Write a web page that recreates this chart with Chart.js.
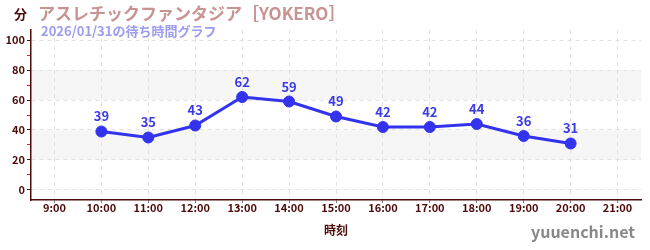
<!DOCTYPE html>
<html><head><meta charset="utf-8">
<script src="https://cdn.jsdelivr.net/npm/chart.js@4/dist/chart.umd.min.js"></script>
<style>html,body{margin:0;padding:0;background:#fff}#wrap{width:650px;height:250px}</style>
</head><body><div id="wrap"><canvas id="c" width="650" height="250"></canvas></div>
<script>
const categories = ["9:00","10:00","11:00","12:00","13:00","14:00","15:00","16:00","17:00","18:00","19:00","20:00","21:00"];
const waitTimes = [null,39,35,43,62,59,49,42,42,44,36,31,null];
const yTicks = [0,10,20,30,40,50,60,70,80,90,100];
const titleText = "アスレチックファンタジア［YOKERO］";
const subtitleText = "2026/01/31の待ち時間グラフ";
const unitText = "分";
const xTitle = "時刻";
const watermark = "yuuenchi.net";

const FONT = "'Noto Sans CJK JP','Noto Sans',sans-serif";
const MAROON = "#4d0a0a";

const decor = {
  id: "decor",
  beforeDraw(chart) {
    const {ctx, chartArea, scales:{y}} = chart;
    ctx.save();
    ctx.fillStyle = "#f6f6f6";
    [[20,40],[60,80]].forEach(([a,b]) => {
      const t = y.getPixelForValue(b), bt = y.getPixelForValue(a);
      ctx.fillRect(chartArea.left, t, chartArea.right - chartArea.left, bt - t);
    });
    ctx.restore();
  },
  afterDraw(chart) {
    const {ctx} = chart;
    ctx.save();
    ctx.textBaseline = "alphabetic";
    ctx.textAlign = "left";
    ctx.fillStyle = MAROON;
    ctx.font = "bold 13px " + FONT;
    ctx.fillText(unitText, 14, 19);
    ctx.fillStyle = "#c89393";
    ctx.font = "bold 17px " + FONT;
    ctx.fillText(titleText, 38, 20);
    ctx.fillStyle = "#9c9cf0";
    ctx.font = "bold 13px " + FONT;
    ctx.fillText(subtitleText, 41, 36);
    ctx.fillStyle = "#888888";
    ctx.font = "bold 16px " + FONT;
    ctx.textAlign = "right";
    ctx.fillText(watermark, 635, 238);
    // data labels
    const meta = chart.getDatasetMeta(0);
    ctx.fillStyle = "#3b3be6";
    ctx.font = "bold 13px " + FONT;
    ctx.textAlign = "center";
    meta.data.forEach((pt, i) => {
      const v = waitTimes[i];
      if (v === null || v === undefined) return;
      ctx.fillText(String(v), pt.x, pt.y - 10);
    });
    ctx.restore();
  }
};

new Chart(document.getElementById("c"), {
  type: "line",
  data: {
    labels: categories,
    datasets: [{
      data: waitTimes,
      borderColor: "#3333ee",
      backgroundColor: "#3333ee",
      borderWidth: 3,
      pointRadius: 5.5,
      pointBorderWidth: 1,
      pointHoverRadius: 5.5,
      tension: 0,
      spanGaps: false
    }]
  },
  options: {
    responsive: false,
    animation: false,
    devicePixelRatio: 1,
    layout: { padding: { top: 30, right: 9, left: 0, bottom: 0 } },
    plugins: { legend: { display: false }, tooltip: { enabled: false } },
    scales: {
      x: {
        offset: true,
        border: { color: MAROON, width: 1.5, dash: [4,4] },
        grid: {
          color: "#e2e2e2", tickBorderDash: [], tickColor: "#777", tickLength: 3, offset: false
        },
        ticks: { color: MAROON, font: { family: FONT, size: 11, weight: "bold" }, maxRotation: 0, padding: -2 },
        title: { display: true, text: xTitle, color: MAROON, font: { family: FONT, size: 12, weight: "bold" }, padding: { top: 2, bottom: 12 } },
        afterFit(s) { s.height = 50; }
      },
      y: {
        min: -6.67, max: 106.67,
        border: { color: MAROON, width: 1.5, dash: [4,4] },
        afterBuildTicks(s) { s.ticks = yTicks.map(v => ({ value: v })); },
        grid: {
          color: ctx => (ctx.tick && ctx.tick.value % 20 === 0) ? "#e2e2e2" : "rgba(0,0,0,0)",
          tickBorderDash: [],
          tickColor: ctx => (ctx.tick && ctx.tick.value % 20 === 0) ? "#222" : "#dd2222",
          tickLength: 4
        },
        ticks: {
          color: MAROON, font: { family: FONT, size: 11, weight: "bold" }, padding: 2,
          callback: v => (v % 20 === 0 ? String(v) : "")
        },
        afterFit(s) { s.width = 31; }
      }
    }
  }
  ,plugins: [decor]
});
</script></body></html>
